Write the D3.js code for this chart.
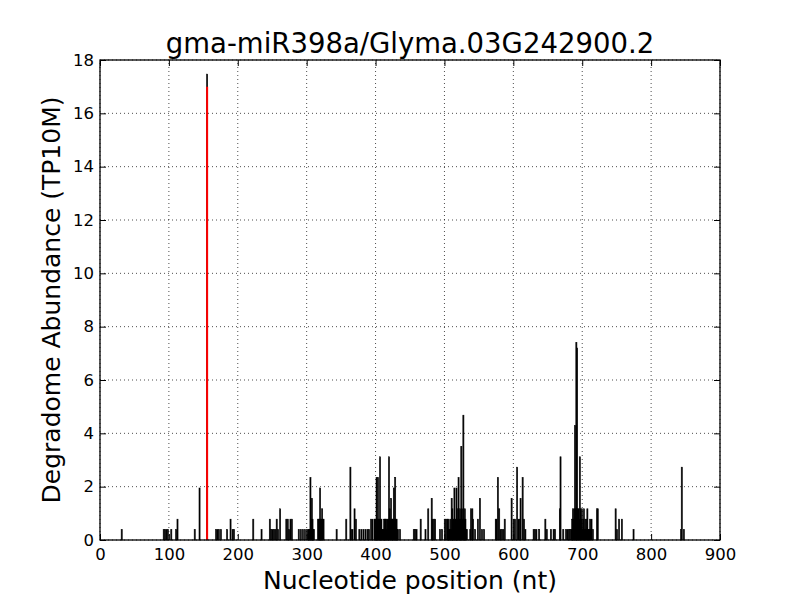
<!DOCTYPE html>
<html>
<head>
<meta charset="utf-8">
<script src="https://cdn.jsdelivr.net/npm/d3@7"></script>
<style>
  body { margin: 0; background: #fff; }
  text { font-family: "DejaVu Sans", sans-serif; }
</style>
</head>
<body>
<div id="chart"></div>
<script>
// degradome reads per nucleotide position (TP10M)
const positions = [
  31, 92, 94, 96, 98, 103, 110, 112, 137, 144, 155,
  168, 170, 172, 175, 184, 189, 192, 194, 222, 234,
  246, 248, 250, 252, 254, 256, 258, 261, 270, 272, 274, 276, 278,
  288, 291, 294, 297, 300, 302, 303, 304, 305, 306, 307, 308, 309, 310,
  316, 317, 318, 319, 320, 321, 322, 323, 324, 343, 357,
  363, 364, 366, 369, 371, 376, 379, 382, 385, 388, 390,
  393, 395, 398, 399, 400, 401, 402, 403, 404, 405, 406, 407, 408, 409,
  410, 411, 412, 413, 414, 415, 416, 417, 418, 419, 420, 421, 422, 423,
  424, 425, 426, 427, 428, 429, 430, 431, 432, 435,
  455, 457, 459, 465, 472, 476, 481, 482, 484, 486, 493, 496,
  500, 502, 504, 505, 506, 507, 508, 509, 510, 511, 512, 513, 514, 515,
  516, 517, 518, 519, 520, 521, 522, 523, 524, 525, 526, 527, 528, 529,
  530, 531, 532, 537, 538, 540, 541, 544, 548, 551, 554, 557,
  574, 575, 577, 579, 581, 583, 585, 587,
  597, 600, 602, 605, 607, 609, 610, 613, 615, 617,
  629, 631, 633, 637, 646, 648, 654, 658, 660, 667, 668,
  672, 676, 678, 680, 682, 684, 685, 686, 687, 688, 689, 690, 691, 692,
  693, 694, 695, 696, 697, 698, 699, 700, 701, 702, 703, 704, 705, 706,
  707, 708, 709, 710, 711, 712, 713, 715, 721, 722,
  748, 750, 753, 757, 774, 843, 844, 847
]
const abundance = [
  0.39, 0.39, 0.39, 0.39, 0.39, 0.39, 0.39, 0.78, 0.39, 1.95, 17.47,
  0.39, 0.39, 0.39, 0.39, 0.39, 0.78, 0.39, 0.39, 0.78, 0.39,
  0.78, 0.39, 0.39, 0.39, 0.39, 0.78, 0.39, 1.17, 0.78, 0.78, 0.39, 0.78, 0.78,
  0.39, 0.39, 0.39, 0.39, 0.39, 0.39, 0.39, 0.39, 2.34, 0.78, 1.56, 0.78, 0.39, 0.39,
  0.78, 0.78, 0.78, 1.95, 0.78, 0.78, 1.17, 0.78, 0.78, 0.39, 0.78,
  2.73, 0.39, 0.39, 1.17, 0.78, 0.39, 0.39, 0.39, 0.39, 0.39, 0.39,
  0.78, 0.78, 0.78, 0.78, 0.78, 2.34, 0.78, 2.34, 0.78, 0.78, 3.12, 0.78, 0.78, 0.39,
  0.39, 0.39, 0.78, 0.78, 0.78, 0.78, 0.39, 0.78, 0.78, 3.12, 1.17, 0.78, 1.56, 0.78,
  0.78, 0.78, 1.95, 0.78, 2.34, 0.78, 0.78, 0.39, 0.39, 0.39,
  0.39, 0.39, 0.39, 0.78, 0.39, 1.17, 1.56, 0.78, 0.78, 0.78, 0.39, 0.39,
  0.78, 0.78, 0.78, 0.78, 0.39, 0.39, 0.78, 0.39, 1.56, 1.17, 0.78, 0.78, 1.95, 0.78,
  0.78, 1.95, 0.78, 1.17, 2.34, 0.78, 1.17, 0.78, 3.51, 1.17, 0.78, 4.68, 0.78, 1.17,
  0.78, 0.39, 0.39, 0.39, 1.17, 1.17, 0.78, 0.39, 0.78, 1.56, 0.39, 0.39,
  0.78, 0.78, 2.34, 1.17, 0.39, 0.39, 0.39, 0.78,
  1.56, 0.78, 0.78, 2.73, 0.78, 0.78, 1.56, 2.34, 0.78, 0.39,
  0.39, 0.39, 0.39, 0.39, 0.78, 0.39, 0.39, 0.39, 0.39, 1.17, 3.12,
  0.39, 0.39, 0.39, 0.39, 0.39, 0.39, 0.78, 1.17, 0.78, 1.17, 4.29, 1.17, 7.41, 7.2,
  1.17, 1.17, 0.78, 3.12, 1.17, 0.78, 1.17, 0.39, 0.78, 1.17, 0.39, 0.78, 0.39, 0.78,
  1.17, 0.39, 0.39, 0.39, 0.78, 0.39, 0.78, 0.39, 1.17, 1.17,
  1.17, 0.39, 0.78, 0.78, 0.39, 0.39, 2.73, 0.39
]
// predicted cleavage site
const sitePos = 155
const siteVal = 17

const xTicks = [0, 100, 200, 300, 400, 500, 600, 700, 800, 900]
const yTicks = [0, 2, 4, 6, 8, 10, 12, 14, 16, 18]

const titleText = "gma-miR398a/Glyma.03G242900.2"
const xLabel = "Nucleotide position (nt)"
const yLabel = "Degradome Abundance (TP10M)"

var width = 800
var height = 600
var margin = ({ top: 60, right: 80, bottom: 60, left: 100 })

var svg = d3.select("#chart")
    .append("svg")
    .attr("width", width)
    .attr("height", height)

var x = d3.scaleLinear()
    .domain([0, 900])
    .range([margin.left, width - margin.right])

var y = d3.scaleLinear()
    .domain([0, 18])
    .range([height - margin.bottom, margin.top])

var data = positions.map((p, i) => ({ pos: p, val: abundance[i] }))

// bars
svg.append("g")
    .selectAll("rect")
    .data(data)
    .enter().append("rect")
    .attr("x", d => x(d.pos) - 0.2)
    .attr("y", d => y(d.val))
    .attr("width", x(1) - x(0) + 0.4)
    .attr("height", d => y(0) - y(d.val))
    .attr("fill", "black")
    .attr("stroke", "black")
    .attr("stroke-width", 0.6)

// red line at the cleavage site
svg.append("line")
    .attr("x1", x(sitePos + 0.5))
    .attr("x2", x(sitePos + 0.5))
    .attr("y1", y(0))
    .attr("y2", y(siteVal))
    .attr("stroke", "red")
    .attr("stroke-width", 2)

// dotted grid
var grid = svg.append("g")
    .attr("stroke", "black")
    .attr("stroke-width", 0.7)
    .attr("stroke-dasharray", "1,3")
grid.selectAll(".gx")
    .data(xTicks)
    .enter().append("line")
    .attr("x1", d => x(d)).attr("x2", d => x(d))
    .attr("y1", y(0)).attr("y2", y(18))
grid.selectAll(".gy")
    .data(yTicks)
    .enter().append("line")
    .attr("x1", x(0)).attr("x2", x(900))
    .attr("y1", d => y(d)).attr("y2", d => y(d))

// axes, ticks pointing inward on all four sides
var bottom = svg.append("g")
    .attr("transform", `translate(0,${y(0)})`)
    .call(d3.axisBottom(x).tickValues(xTicks).tickSize(-6).tickPadding(8).tickSizeOuter(0))
var left = svg.append("g")
    .attr("transform", `translate(${x(0)},0)`)
    .call(d3.axisLeft(y).tickValues(yTicks).tickSize(-6).tickPadding(6).tickSizeOuter(0))
svg.append("g")
    .attr("transform", `translate(0,${y(18)})`)
    .call(d3.axisTop(x).tickValues(xTicks).tickSize(-6).tickFormat("").tickSizeOuter(0))
svg.append("g")
    .attr("transform", `translate(${x(900)},0)`)
    .call(d3.axisRight(y).tickValues(yTicks).tickSize(-6).tickFormat("").tickSizeOuter(0))

svg.selectAll(".domain").remove()
svg.selectAll(".tick line").attr("stroke", "black").attr("stroke-width", 1)
svg.selectAll(".tick text")
    .attr("font-family", "DejaVu Sans")
    .attr("font-size", 16.5)
    .attr("fill", "black")

// frame
svg.append("rect")
    .attr("x", x(0))
    .attr("y", y(18))
    .attr("width", x(900) - x(0))
    .attr("height", y(0) - y(18))
    .attr("fill", "none")
    .attr("stroke", "black")
    .attr("stroke-width", 1.3)

// title and labels
svg.append("text")
    .attr("x", (x(0) + x(900)) / 2)
    .attr("y", 53)
    .attr("text-anchor", "middle")
    .attr("font-size", 27.5)
    .text(titleText)

svg.append("text")
    .attr("x", (x(0) + x(900)) / 2)
    .attr("y", 589)
    .attr("text-anchor", "middle")
    .attr("font-size", 25)
    .text(xLabel)

svg.append("text")
    .attr("transform", `translate(60,${(y(0) + y(18)) / 2}) rotate(-90)`)
    .attr("text-anchor", "middle")
    .attr("font-size", 25)
    .text(yLabel)
</script>
</body>
</html>
